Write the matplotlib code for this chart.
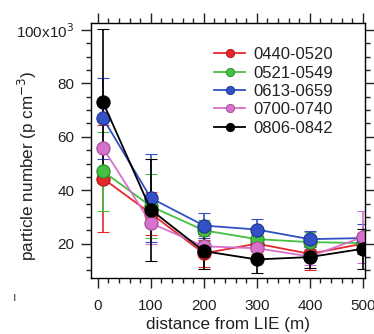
import matplotlib.pyplot as plt
from matplotlib.lines import Line2D
from matplotlib.ticker import MultipleLocator, FixedLocator

plt.rcParams['font.family'] = ['Liberation Sans', 'DejaVu Sans']

distance = [10, 100, 200, 300, 400, 500]
labels = ['0440-0520', '0521-0549', '0613-0659', '0700-0740', '0806-0842']
colors = ['#e8262c', '#45c040', '#3350c4', '#d672cc', '#000000']
edges = ['#a01818', '#2a8a2a', '#1f3290', '#a04c98', '#000000']

red = [44.4, 31.3, 16.4, 20.0, 16.2, 20.0]
green = [47.1, 34.0, 25.0, 21.7, 20.6, 20.2]
blue = [66.9, 37.1, 26.8, 25.3, 21.7, 22.1]
pink = [55.8, 27.7, 19.0, 18.3, 15.2, 22.5]
black = [72.9, 32.7, 17.2, 14.1, 15.0, 18.1]

red_err = [20.0, 8.0, 5.0, 4.0, 5.9, 4.0]
green_err = [14.7, 12.0, 4.0, 3.0, 3.7, 3.0]
blue_err = [15.2, 16.5, 4.8, 3.9, 3.0, 5.4]
pink_err = [10.0, 8.0, 4.0, 3.0, 3.0, 9.6]
black_err = [27.5, 19.0, 6.6, 5.2, 4.0, 7.4]

series = [red, green, blue, pink, black]
errors = [red_err, green_err, blue_err, pink_err, black_err]

fig = plt.figure(figsize=(3.74, 3.34), dpi=100)
ax = fig.add_axes([0.243, 0.168, 0.733, 0.763])

for vals, err, c, e in zip(series, errors, colors, edges):
    ax.errorbar(distance, vals, yerr=err, color=c, ecolor=c, elinewidth=1.2,
                capsize=4, capthick=1.2, lw=1.3, marker='o', ms=9.5,
                mfc=c, mec=e, mew=0.8)

ax.set_xlim(-13, 504)
ax.set_ylim(7.2, 102.6)

ax.xaxis.set_major_locator(FixedLocator([0, 100, 200, 300, 400, 500]))
ax.xaxis.set_minor_locator(MultipleLocator(20))
ax.yaxis.set_major_locator(FixedLocator([20, 40, 60, 80, 100]))
ax.yaxis.set_minor_locator(MultipleLocator(5))
ax.set_yticklabels(['20', '40', '60', '80', '100x10$^3$'])

ax.tick_params(which='both', direction='out', top=True, right=True,
               labelsize=11, colors='#222222')
ax.tick_params(which='major', length=7, width=1)
ax.tick_params(which='minor', length=3.6, width=1)
ax.tick_params(axis='x', pad=8)
ax.tick_params(axis='y', pad=5)
for s in ax.spines.values():
    s.set_linewidth(1)

ax.set_xlabel('distance from LIE (m)', fontsize=12.3, labelpad=3, color='#222222')
ax.set_ylabel('particle number (p cm$^{-3}$)', fontsize=12.3, color='#222222')
ax.yaxis.set_label_coords(-0.19, 0.44)

handles = [Line2D([], [], color=c, lw=1.3, marker='o', ms=6, mfc=c, mec=e, mew=0.6)
           for c, e in zip(colors, edges)]
leg = ax.legend(handles, labels, loc='upper right', bbox_to_anchor=(0.882, 0.905),
                frameon=False, fontsize=12, handlelength=1.9, handletextpad=0.45,
                labelspacing=0.2, borderpad=0.0, borderaxespad=0.0)
for t in leg.get_texts():
    t.set_color('#222222')

fig.text(0.035, 0.1, 'ı', fontsize=9, color='#444444')

fig.savefig('out.png', dpi=100)
